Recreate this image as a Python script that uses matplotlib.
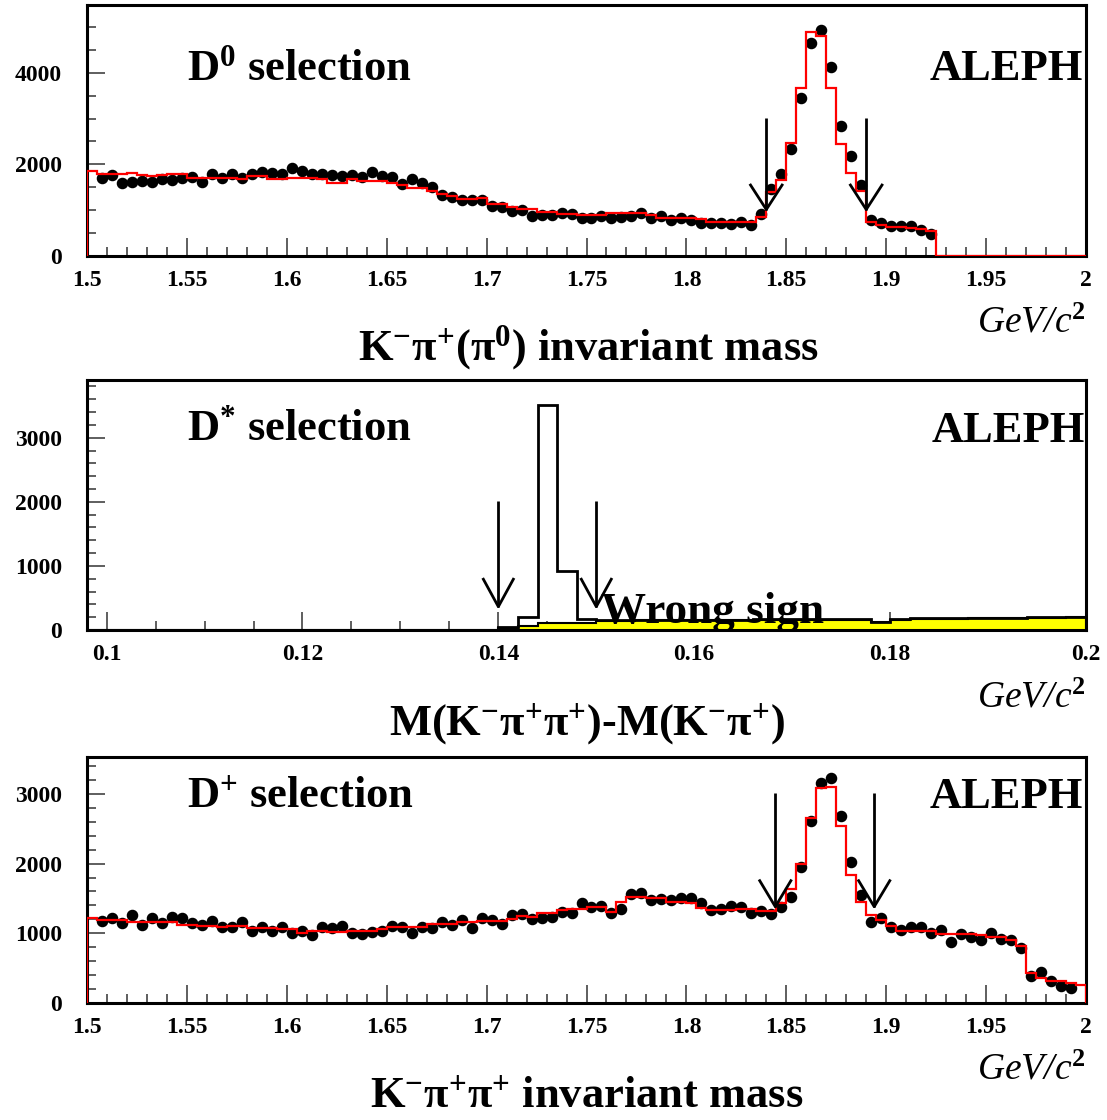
import numpy as np
import matplotlib
matplotlib.use('Agg')
import matplotlib.pyplot as plt
from matplotlib.ticker import MultipleLocator, FuncFormatter

plt.rcParams['mathtext.fontset'] = 'custom'
plt.rcParams['mathtext.rm'] = 'Liberation Serif:bold'
plt.rcParams['mathtext.bf'] = 'Liberation Serif:bold'
plt.rcParams['mathtext.it'] = 'Liberation Serif:italic'
plt.rcParams['mathtext.default'] = 'rm'
plt.rcParams['font.family'] = ['Liberation Serif', 'DejaVu Serif']

# ---------------- data ----------------
# D0 selection (K- pi+ (pi0)), bins of 0.005 GeV from 1.5
d0_data = [1700, 1770, 1590, 1620, 1635, 1610, 1680, 1660, 1710, 1730, 1620, 1800, 1700, 1780,
           1710, 1800, 1840, 1820, 1780, 1925, 1850, 1800, 1780, 1770, 1750, 1770, 1730, 1840,
           1750, 1730, 1570, 1680, 1590, 1510, 1330, 1290, 1220,
           1230, 1220, 1088, 1059, 978, 1000, 880, 900, 900, 930, 910, 840, 830, 880, 840, 860,
           880, 930, 840, 880, 780, 830, 780, 720, 720, 720, 690, 743, 670,
           927, 1461, 1785, 2340, 3440, 4640, 4934, 4136, 2831, 2194, 1549, 780, 721, 650, 655,
           655, 576, 488]
d0_mc = [1860, 1800, 1800, 1800, 1820, 1760, 1740, 1760, 1780, 1780,
         1710, 1710, 1710, 1710, 1710, 1680, 1740, 1740, 1680, 1680,
         1710, 1710, 1710, 1690, 1600, 1600, 1690, 1640, 1640, 1640,
         1600, 1540, 1480, 1480, 1430, 1350, 1300, 1240, 1240, 1256,
         1132, 1132, 1073, 1022, 1022, 963, 963, 912, 912, 890,
         890, 890, 941, 941, 941, 941, 890, 840, 840, 840,
         840, 817, 743, 743, 743, 743, 743, 853, 1389, 1659,
         2466, 3675, 4884, 4810, 3675, 2451, 1806, 1425, 743, 670,
         633, 633, 615, 600, 538, 0, 0, 0, 0, 0,
         0, 0, 0, 0, 0, 0, 0, 0, 0, 0]
d0_cuts = [1.84, 1.89]

# D* selection: M(K pi pi) - M(K pi), bins of 0.002 GeV from 0.098
dstar_right = [0] * 21 + [52, 198, 3516, 927, 167,
                          150, 150, 155, 155, 160, 160, 160, 163, 165, 165, 167, 167, 167,
                          167, 130, 167, 180, 182, 183, 183, 185, 190, 198, 200, 205]
dstar_wrong = [0] * 21 + [25, 70, 110, 110, 115,
                          140, 145, 150, 150, 152, 155, 155, 158, 160, 160, 162, 162, 163,
                          163, 128, 162, 175, 178, 178, 180, 180, 185, 192, 195, 198]
dstar_cuts = [0.14, 0.15]

# D+ selection (K- pi+ pi+)
dp_data = [1176, 1215, 1143, 1263, 1119, 1224, 1143, 1229, 1224, 1152, 1119, 1176, 1095, 1095,
           1157, 1038, 1095, 1038, 1095, 1000, 1038, 976, 1095, 1071, 1105, 1009, 985, 1023,
           1038, 1105, 1095, 1009, 1095, 1071, 1167, 1119, 1191, 1081, 1215, 1191, 1129, 1263,
           1272,
           1200, 1224, 1238, 1310, 1296, 1430, 1382, 1396, 1286, 1349, 1559, 1573, 1478, 1492,
           1478, 1511, 1502, 1439, 1334, 1344, 1396, 1373, 1296, 1325, 1272, 1382,
           1525, 1947, 2611, 3152, 3224, 2683, 2027, 1549, 1167, 1215, 1095, 1047, 1095, 1095,
           1009, 1047, 880, 990, 952, 904, 1000, 918, 904, 785, 387, 440, 316, 249, 211]
dp_mc = [1224, 1191, 1191, 1191, 1157, 1157, 1157, 1157, 1157, 1119,
         1119, 1105, 1105, 1095, 1105, 1105, 1071, 1071, 1071, 1060,
         1060, 1009, 1040, 1040, 1023, 1023, 1040, 1030, 1040, 1060,
         1085, 1085, 1085, 1085, 1130, 1130, 1140, 1160, 1160, 1170,
         1180, 1180, 1200, 1250, 1238, 1286, 1286, 1334, 1349, 1349,
         1373, 1373, 1310, 1444, 1525, 1525, 1502, 1502, 1444, 1444,
         1430, 1361, 1334, 1334, 1334, 1349, 1349, 1325, 1325, 1430,
         1631, 1994, 2659, 3080, 3104, 2544, 1836, 1454, 1263, 1191,
         1110, 1038, 1038, 1030, 1030, 990, 990, 990, 990, 980,
         952, 952, 904, 818, 426, 354, 320, 310, 291, 258]
dp_cuts = [1.8445, 1.894]

mass_edges = np.linspace(1.5, 2.0, 101)
mass_centers = 0.5 * (mass_edges[:-1] + mass_edges[1:])
dm_edges = np.linspace(0.098, 0.2, 52)

# ---------------- figure ----------------
W, H = 1107, 1120
fig = plt.figure(figsize=(W / 100, H / 100), dpi=100)


def px_axes(l, t, r, b):
    return fig.add_axes([l / W, 1 - b / H, (r - l) / W, (b - t) / H])


FONT = ['Liberation Serif', 'DejaVu Serif']


def style(ax, xmaj, xmin, ymaj, ymin, fmt):
    for s in ax.spines.values():
        s.set_linewidth(2.2)
    ax.xaxis.set_major_locator(MultipleLocator(xmaj))
    ax.xaxis.set_minor_locator(MultipleLocator(xmin))
    ax.yaxis.set_major_locator(MultipleLocator(ymaj))
    ax.yaxis.set_minor_locator(MultipleLocator(ymin))
    ax.xaxis.set_major_formatter(FuncFormatter(fmt))
    ax.yaxis.set_major_formatter(FuncFormatter(lambda v, p: '%d' % round(v)))
    ax.tick_params(which='both', direction='in', top=False, right=False, color='#333333')
    ax.tick_params(which='major', length=13, width=1.1)
    ax.tick_params(which='minor', length=6.5, width=1.1)
    ax.tick_params(axis='x', which='major', pad=10)
    ax.tick_params(axis='y', which='major', pad=18)
    for lab in ax.get_xticklabels() + ax.get_yticklabels():
        lab.set_fontfamily(FONT)
        lab.set_fontweight('bold')
        lab.set_fontsize(17)


def arrow(ax, x, ytop, ytip, yhead, hw):
    ax.plot([x, x], [ytop, ytip], color='black', lw=2, zorder=6, solid_capstyle='butt')
    ax.plot([x - hw, x, x + hw], [yhead, ytip, yhead], color='black', lw=2, zorder=6)


mass_fmt = lambda v, p: ('%.3f' % v).rstrip('0').rstrip('.')
dm_fmt = lambda v, p: ('%.3f' % v).rstrip('0').rstrip('.')

# ---- top panel ----
ax1 = px_axes(87, 5, 1086, 256)
ax1.plot(mass_centers[1:1 + len(d0_data)], d0_data, 'o', color='black', ms=7.3, zorder=3)
ax1.stairs(d0_mc, mass_edges, color='red', lw=1.6, baseline=0, zorder=4)
for c in d0_cuts:
    arrow(ax1, c, 3022, 1015, 1549, 0.0079)
ax1.set_xlim(1.5, 2.0)
ax1.set_ylim(0, 5480)
style(ax1, 0.05, 0.01, 2000, 500, mass_fmt)
ax1.text(0.1, 0.70, 'D$^{0}$ selection', transform=ax1.transAxes, fontsize=32,
         fontweight='bold', family=FONT, va='baseline', ha='left')
ax1.text(0.997, 0.70, 'ALEPH', transform=ax1.transAxes, fontsize=32,
         fontweight='bold', family=FONT, va='baseline', ha='right')

# ---- middle panel ----
ax2 = px_axes(87, 380, 1086, 630)
ax2.set_axisbelow(True)
ax2.stairs(dstar_wrong, dm_edges, fill=True, facecolor='yellow', edgecolor='black',
           lw=1.5, baseline=0, zorder=2)
ax2.stairs(dstar_right, dm_edges, color='black', lw=2, baseline=0, zorder=3)
for c in dstar_cuts:
    arrow(ax2, c, 2005, 364, 792, 0.00153)
ax2.set_xlim(0.098, 0.2)
ax2.set_ylim(0, 3900)
style(ax2, 0.02, 0.005, 1000, 200, dm_fmt)
ax2.text(0.1, 0.76, 'D$^{*}$ selection', transform=ax2.transAxes, fontsize=32,
         fontweight='bold', family=FONT, va='baseline', ha='left')
ax2.text(0.999, 0.752, 'ALEPH', transform=ax2.transAxes, fontsize=32,
         fontweight='bold', family=FONT, va='baseline', ha='right')
ax2.text(0.1505, 105, 'Wrong sign', fontsize=32.5, fontweight='bold', family=FONT,
         va='baseline', ha='left', zorder=7)

# ---- bottom panel ----
ax3 = px_axes(87, 757, 1086, 1003)
ax3.plot(mass_centers[1:1 + len(dp_data)], dp_data, 'o', color='black', ms=7.3, zorder=3)
ax3.stairs(dp_mc, mass_edges, color='red', lw=1.6, baseline=0, zorder=4)
for c in dp_cuts:
    arrow(ax3, c, 3008, 1382, 1755, 0.0078)
ax3.set_xlim(1.5, 2.0)
ax3.set_ylim(0, 3530)
style(ax3, 0.05, 0.01, 1000, 200, mass_fmt)
ax3.text(0.1, 0.793, 'D$^{+}$ selection', transform=ax3.transAxes, fontsize=32,
         fontweight='bold', family=FONT, va='baseline', ha='left')
ax3.text(0.997, 0.793, 'ALEPH', transform=ax3.transAxes, fontsize=32,
         fontweight='bold', family=FONT, va='baseline', ha='right')

# ---- axis titles ----
def ftext(xpx, ypx, s, **kw):
    fig.text(xpx / W, 1 - ypx / H, s, **kw)

for ypx in (332, 707, 1080):
    ftext(1085, ypx, 'GeV/c$^{\\mathit{2}}$', fontsize=27, fontstyle='italic',
          family=FONT, ha='right', va='baseline')

ftext(588, 360, 'K$^{-}$π$^{+}$(π$^{0}$) invariant mass', fontsize=32, fontweight='bold',
      family=FONT, ha='center', va='baseline')
ftext(587, 735, 'M(K$^{-}$π$^{+}$π$^{+}$)-M(K$^{-}$π$^{+}$)', fontsize=32, fontweight='bold',
      family=FONT, ha='center', va='baseline')
ftext(587, 1108, 'K$^{-}$π$^{+}$π$^{+}$ invariant mass', fontsize=32, fontweight='bold',
      family=FONT, ha='center', va='baseline')

fig.savefig('out.png', dpi=100)
